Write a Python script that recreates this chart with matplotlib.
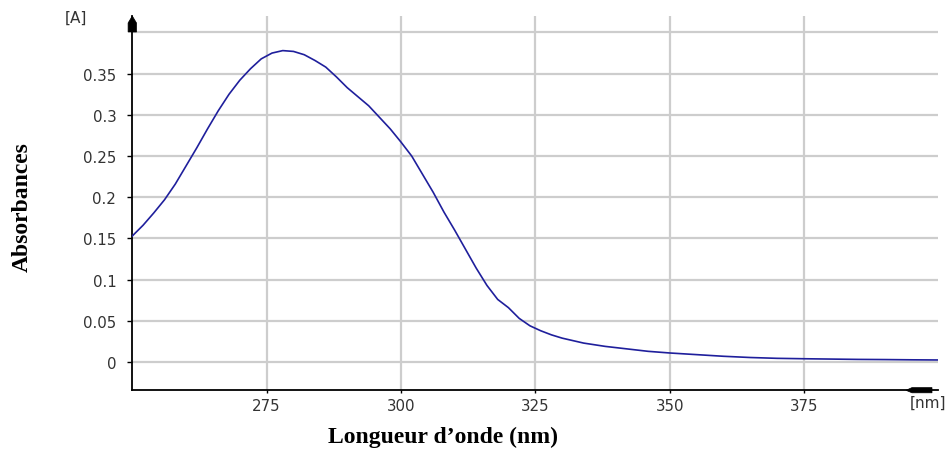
import matplotlib
matplotlib.use("Agg")
import matplotlib.pyplot as plt
from matplotlib.patches import Polygon
from matplotlib.transforms import IdentityTransform

# UV absorption spectrum
wavelength = [250, 252, 254, 256, 258, 260, 262, 264, 266, 268, 270, 272, 274,
              276, 278, 280, 282, 284, 286, 288, 290, 292, 294, 296, 298, 300,
              302, 304, 306, 308, 310, 312, 314, 316, 318, 320, 322, 324, 326,
              328, 330, 334, 338, 342, 346, 350, 355, 360, 365, 370, 375, 380,
              385, 390, 395, 400]
absorbance = [0.153, 0.166, 0.181, 0.197, 0.216, 0.238, 0.260, 0.283, 0.305,
              0.325, 0.342, 0.356, 0.368, 0.375, 0.378, 0.377, 0.373, 0.366,
              0.358, 0.346, 0.333, 0.322, 0.311, 0.297, 0.283, 0.267, 0.250,
              0.228, 0.206, 0.182, 0.160, 0.137, 0.114, 0.093, 0.076, 0.066,
              0.053, 0.044, 0.038, 0.033, 0.029, 0.023, 0.019, 0.016, 0.013,
              0.011, 0.009, 0.007, 0.0055, 0.0045, 0.004, 0.0036, 0.0032,
              0.003, 0.0027, 0.0025]

x_ticks = [275, 300, 325, 350, 375]
x_tick_labels = ["275", "300", "325", "350", "375"]
y_ticks = [0, 0.05, 0.1, 0.15, 0.2, 0.25, 0.3, 0.35]
y_tick_labels = ["0", "0.05", "0.1", "0.15", "0.2", "0.25", "0.3", "0.35"]
y_grid_extra = [0.4]

W, H = 951, 456
fig = plt.figure(figsize=(W / 100, H / 100), dpi=100)
ax_l, ax_r, ax_t, ax_b = 132.3, 938.3, 17.0, 391.3
ax = fig.add_axes([ax_l / W, 1 - ax_b / H, (ax_r - ax_l) / W, (ax_b - ax_t) / H])

ax.set_xlim(250, 400)
ax.set_ylim(-0.0343, 0.42)

grid_c = "#cdcdcd"
for xv in x_ticks:
    ax.axvline(xv, color=grid_c, lw=1.6, zorder=0)
for yv in y_ticks + y_grid_extra:
    ax.axhline(yv, color=grid_c, lw=1.6, zorder=0)

ax.plot(wavelength, absorbance, color="#1f1f9c", lw=1.2, zorder=3)

for side in ("top", "right"):
    ax.spines[side].set_visible(False)
for side in ("left", "bottom"):
    ax.spines[side].set_color("black")
    ax.spines[side].set_linewidth(1.3)

tick_font = dict(family="DejaVu Sans", size=10.8, color="#333333")
ax.set_xticks(x_ticks)
ax.set_xticklabels(x_tick_labels, **tick_font)
ax.set_yticks(y_ticks)
ax.set_yticklabels(y_tick_labels, **tick_font)
ax.tick_params(axis="y", direction="out", length=3.5, width=1, pad=8, color="black")
ax.tick_params(axis="x", direction="out", length=2.5, width=1, pad=3, color="black")

# axis arrowheads
ident = IdentityTransform()
yarrow = [(132.3, H - 17), (136.5, H - 24), (136.5, H - 33), (128.1, H - 33), (128.1, H - 24)]
xarrow = [(906, H - 391.3), (912, H - 388.6), (932, H - 388.6), (932, H - 393.8), (912, H - 393.8)]
for pts in (yarrow, xarrow):
    fig.patches.append(Polygon(pts, closed=True, facecolor="black", edgecolor="black",
                               lw=0.5, transform=ident, figure=fig))

unit_font = dict(family="DejaVu Sans", size=11, color="#333333")
fig.text(76 / W, 1 - 18 / H, "[A]", ha="center", va="center", **unit_font)
fig.text(928 / W, 1 - 403 / H, "[nm]", ha="center", va="center", **unit_font)

label_font = dict(family="Liberation Serif", size=17, weight="bold", color="black")
fig.text(443 / W, 1 - 437 / H, "Longueur d\u2019onde (nm)", ha="center", va="center", **label_font)
fig.text(22 / W, 1 - 207 / H, "Absorbances", ha="center", va="center", rotation=90, **label_font)

fig.savefig("out.png", dpi=100)
